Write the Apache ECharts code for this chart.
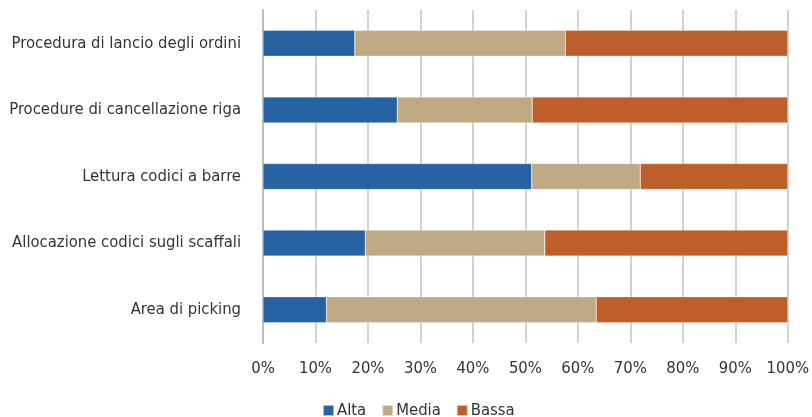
<!DOCTYPE html>
<html>
<head>
<meta charset="utf-8">
<script src="https://cdn.jsdelivr.net/npm/echarts@6/dist/echarts.min.js"></script>
<style>
  html, body { margin: 0; padding: 0; background: #fff; }
  #chart { width: 812px; height: 417px; }
</style>
</head>
<body>
<div id="chart"></div>
<script>
// Categories, bottom to top as drawn on the category axis
const categories = [
  'Area di picking',
  'Allocazione codici sugli scaffali',
  'Lettura codici a barre',
  'Procedure di cancellazione riga',
  'Procedura di lancio degli ordini'
];
// Shares in percent per priority level
const alta  = [12.1, 19.5, 51.2, 25.6, 17.5];
const media = [51.4, 34.2, 20.7, 25.7, 40.1];
const bassa = [36.5, 46.3, 28.1, 48.7, 42.4];
const xTicks = [0, 10, 20, 30, 40, 50, 60, 70, 80, 90, 100];

const FONT = "'Liberation Sans Narrow', 'DejaVu Sans Condensed', 'Roboto Condensed', sans-serif";
const TEXT = '#333333';

const chart = echarts.init(document.getElementById('chart'), null, { renderer: 'canvas' });

function bar(name, data, color) {
  return {
    name, type: 'bar', stack: 'tot', data,
    barWidth: 26,
    itemStyle: { color, borderColor: 'rgba(255,255,255,0.6)', borderWidth: 0.5 }
  };
}

chart.setOption({
  animation: false,
  textStyle: { fontFamily: FONT },
  grid: { left: 263, right: 22, top: 10, bottom: 74, containLabel: false },
  xAxis: {
    type: 'value', min: xTicks[0], max: xTicks[xTicks.length - 1], interval: 10,
    axisLine: { show: false },
    axisTick: { show: false },
    axisLabel: {
      formatter: v => v + '%', color: TEXT, fontSize: 16.5, fontFamily: FONT, margin: 17
    },
    splitLine: { show: true, lineStyle: { color: '#c3c3c6', width: 1.5 } }
  },
  yAxis: {
    type: 'category', data: categories,
    axisLine: { show: true, lineStyle: { color: '#bcbcc0', width: 2 } },
    axisTick: { show: false },
    axisLabel: { color: TEXT, fontSize: 16.5, fontFamily: FONT, margin: 22 }
  },
  legend: {
    bottom: -7, left: 317,
    itemWidth: 11, itemHeight: 11, itemGap: 15,
    icon: 'rect',
    textStyle: { color: TEXT, fontSize: 16.5, fontFamily: FONT, padding: [0, 0, 0, -2] },
    data: ['Alta', 'Media', 'Bassa']
  },
  series: [
    bar('Alta', alta, '#2763a2'),
    bar('Media', media, '#c0aa85'),
    bar('Bassa', bassa, '#be5e2b')
  ]
});
</script>
</body>
</html>
